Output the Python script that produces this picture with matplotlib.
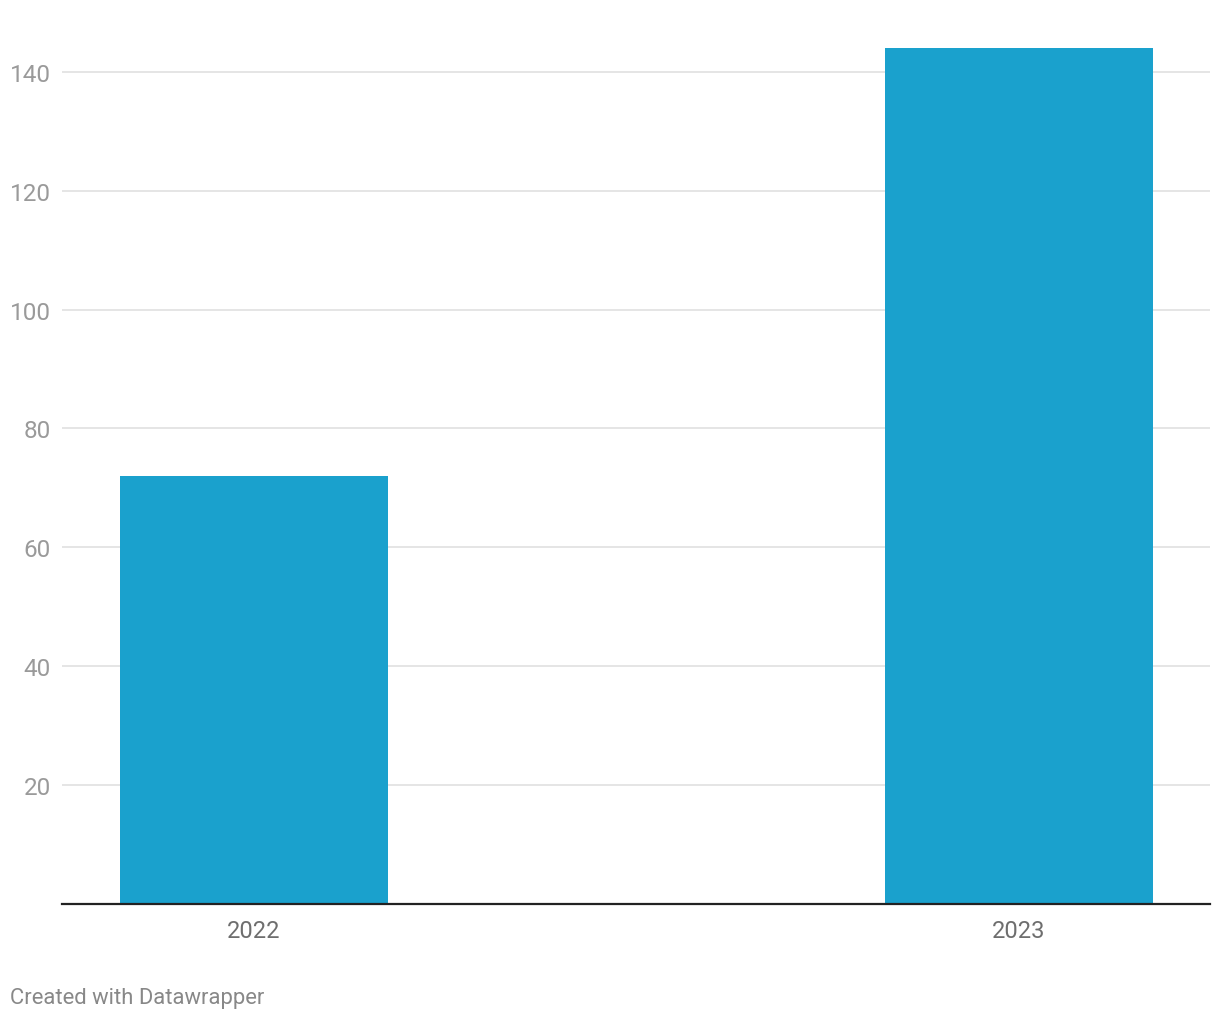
import matplotlib
matplotlib.use("Agg")
import matplotlib.pyplot as plt

years = ["2022", "2023"]
values = [72, 144]
yticks = [20, 40, 60, 80, 100, 120, 140]

plt.rcParams['font.family'] = ['Roboto', 'DejaVu Sans']

fig = plt.figure(figsize=(12.2, 10.2), dpi=100)
# axes placed in pixel terms: left 62, right 1210, baseline 904, top 30
ax = fig.add_axes([62/1220, 115.5/1020, (1210-62)/1220, (904.5-30)/1020])

ax.bar(range(len(years)), values, width=0.35, color='#1aa1cd', zorder=2)

ax.set_xlim(-0.251, 1.25)
ax.set_ylim(0, (904.5-30)/((904.5-73)/140))
ax.set_yticks(yticks)
ax.set_xticks(range(len(years)))
ax.set_xticklabels(years)

ax.grid(axis='y', color='#e3e3e3', linewidth=1.3, zorder=0)
for s in ['top', 'right', 'left']:
    ax.spines[s].set_visible(False)
ax.spines['bottom'].set_color('#222222')
ax.spines['bottom'].set_linewidth(1.6)
ax.spines['bottom'].set_zorder(3)

ax.tick_params(axis='y', length=0, pad=8, labelsize=17.5, labelcolor='#9a9a9a')
ax.tick_params(axis='x', length=0, pad=11, labelsize=17, labelcolor='#6e6e6e')

fig.text(10/1220, 1-999/1020, "Created with Datawrapper", fontsize=15.8,
         color='#888888', va='center', ha='left')

fig.savefig("out.png", dpi=100)
